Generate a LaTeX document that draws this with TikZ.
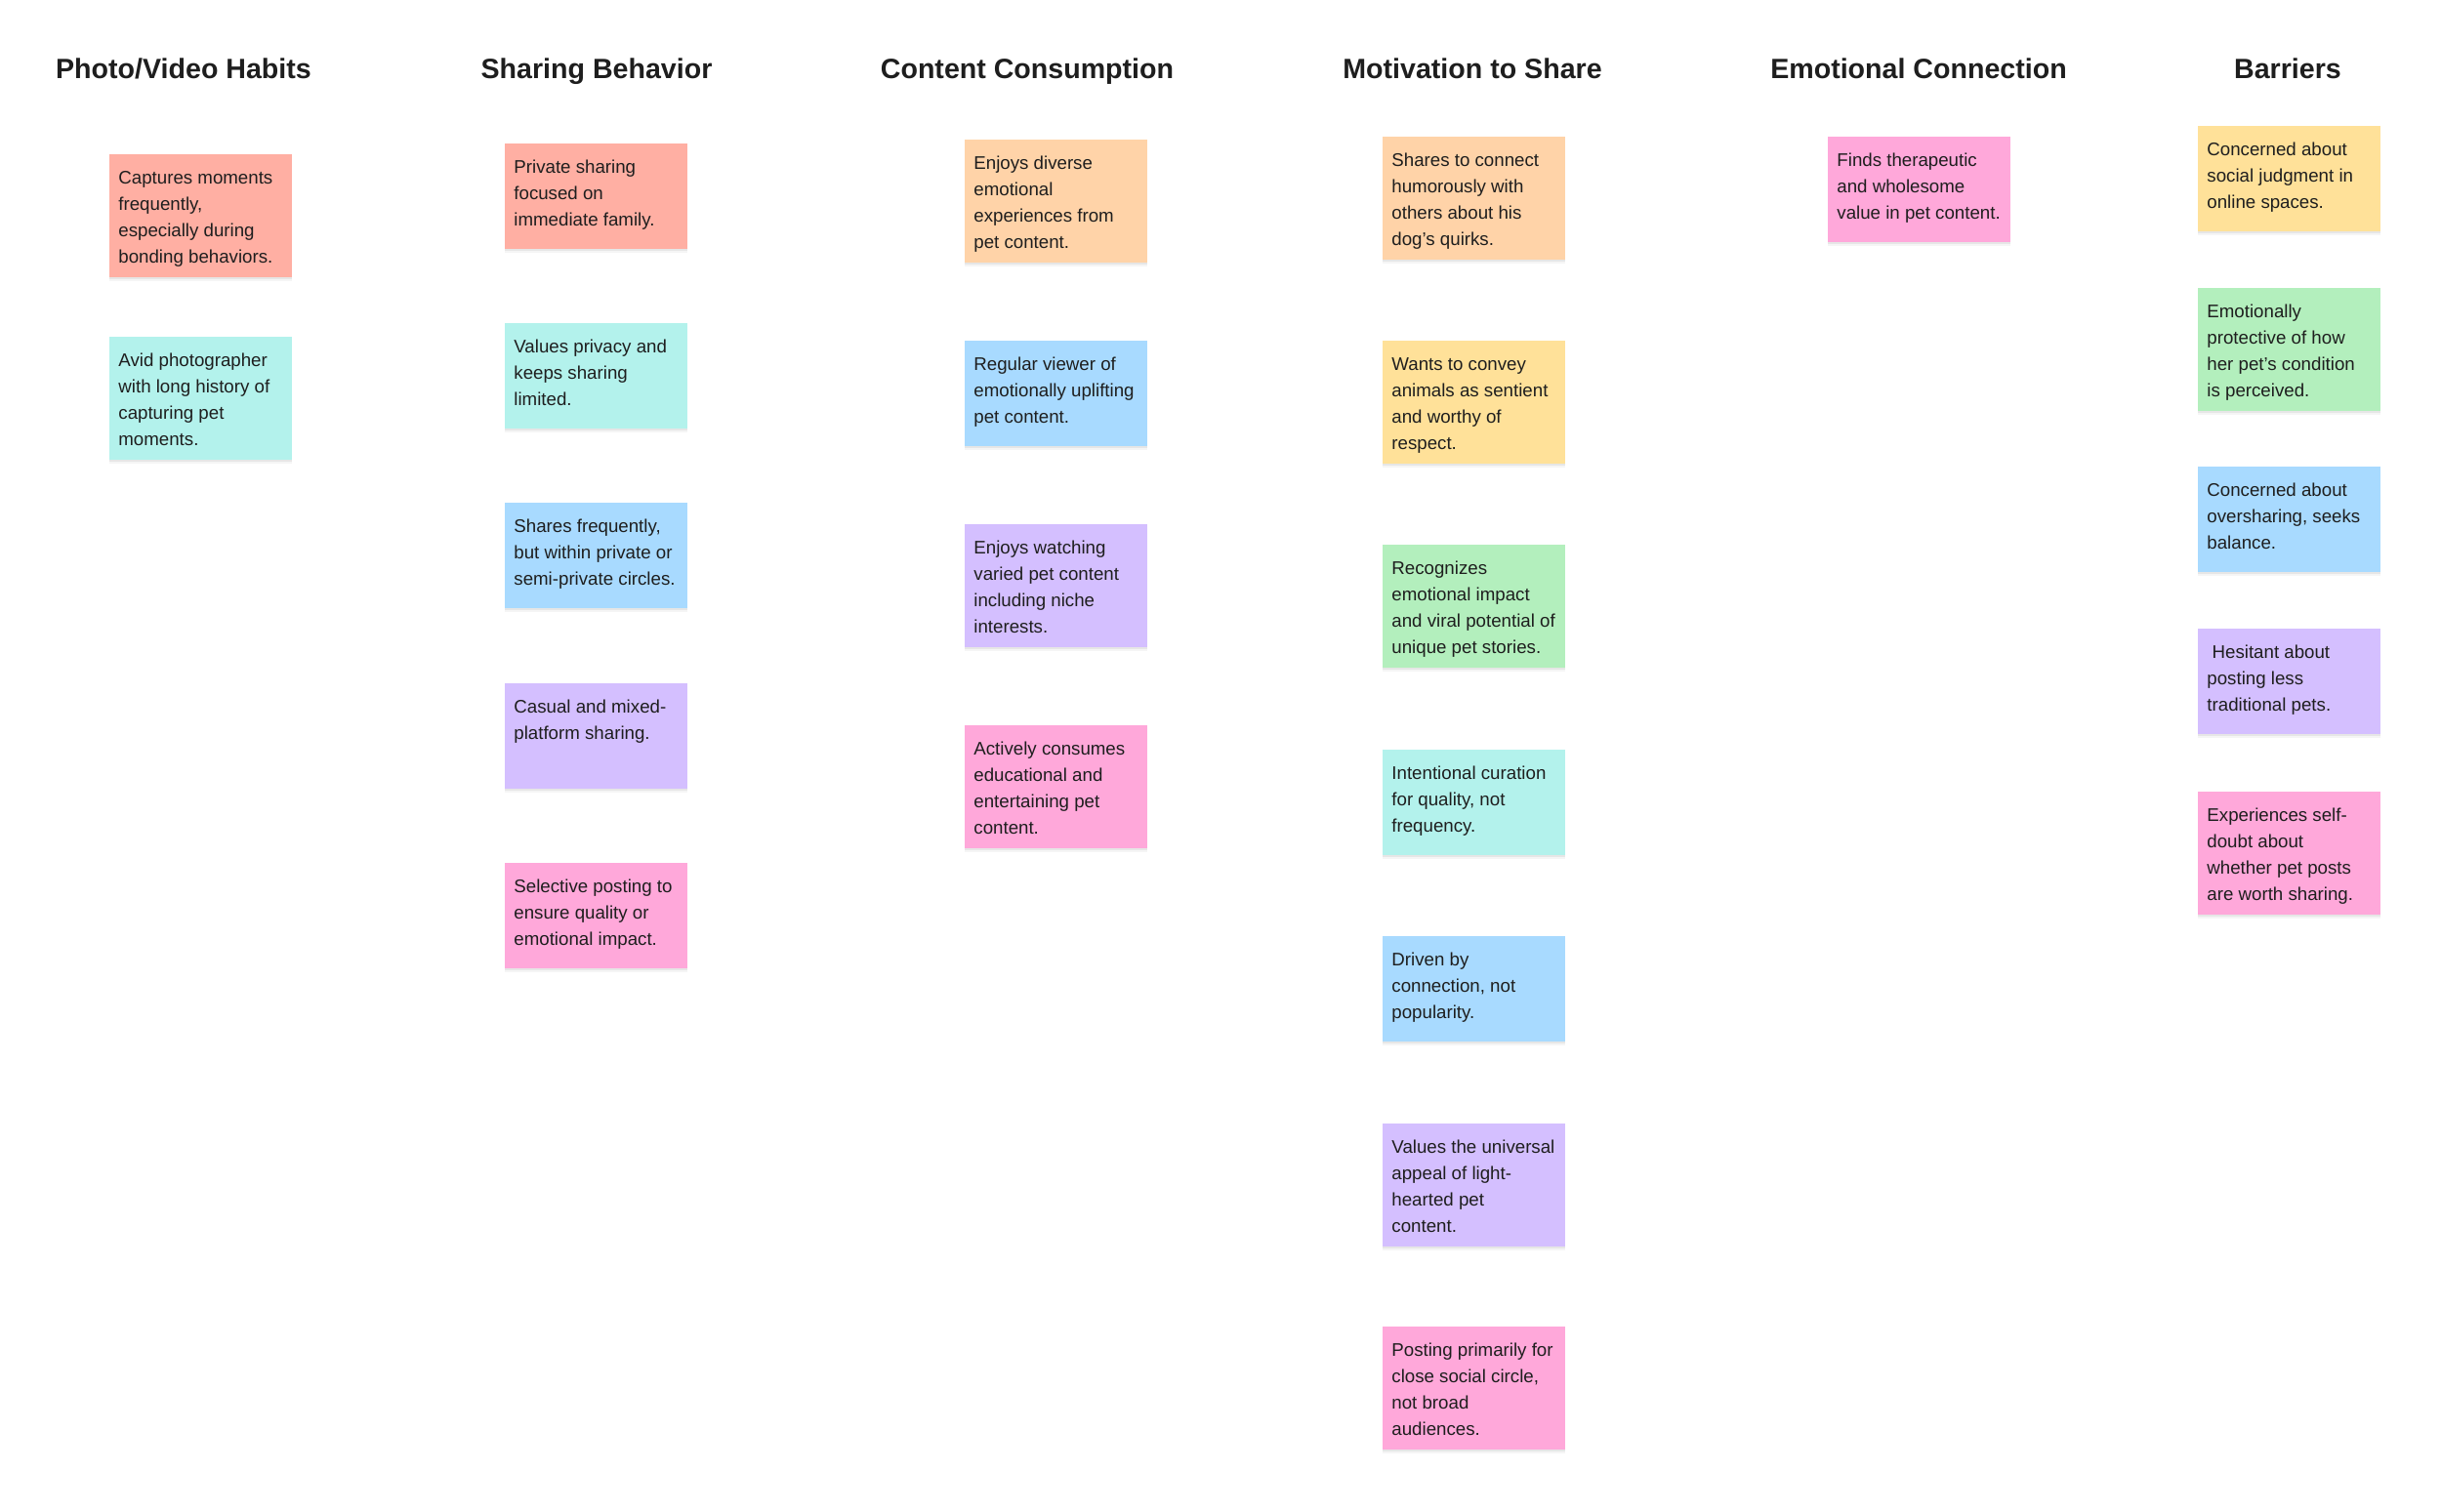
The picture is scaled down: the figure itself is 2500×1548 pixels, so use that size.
\documentclass[tikz,border=0pt]{standalone}
\usepackage{fontspec}
\setmainfont{Liberation Sans}
\usetikzlibrary{shadows}
\definecolor{ink}{HTML}{1E1E1E}
\definecolor{csalmon}{HTML}{FFAFA3}
\definecolor{cteal}{HTML}{B3F2EC}
\definecolor{cblue}{HTML}{A8DAFF}
\definecolor{cpurple}{HTML}{D4BFFF}
\definecolor{cpink}{HTML}{FFA8DA}
\definecolor{corange}{HTML}{FFD3A8}
\definecolor{cyellow}{HTML}{FFE199}
\definecolor{cgreen}{HTML}{B3EFBD}
\tikzset{
  stickybox/.style={rectangle, anchor=north west, inner xsep=4.5pt, inner ysep=5.5pt,
    text=ink, font=\fontsize{9.35pt}{13.5pt}\selectfont,
    drop shadow={shadow xshift=0pt, shadow yshift=-1.8pt, opacity=0.04, fill=black},
    drop shadow={shadow xshift=0pt, shadow yshift=-0.8pt, opacity=0.06, fill=black}},
  colhead/.style={anchor=base, text=ink, inner sep=0pt, font=\fontsize{14.3pt}{17pt}\selectfont\bfseries}
}
\newcommand\sticky[6]{%
  \node[stickybox, fill=#5] (#1) at (#2,#3)
    {\parbox[t][\dimexpr #4pt/2-11pt\relax][t]{84.5pt}{\raggedright\strut #6}};}
\begin{document}
\begin{tikzpicture}[x=0.5pt,y=-0.5pt]
\fill[white] (0,0) rectangle (2500,1548);
\useasboundingbox (0,0) rectangle (2500,1548);
% headings
\node[colhead] (h1) at (188,80) {Photo/Video Habits};
\node[colhead] (h2) at (611,80) {Sharing Behavior};
\node[colhead] (h3) at (1052,80) {Content Consumption};
\node[colhead] (h4) at (1508,80) {Motivation to Share};
\node[colhead] (h5) at (1965,80) {Emotional Connection};
\node[colhead] (h6) at (2343,80) {Barriers};
% column 1
\sticky{p1}{112}{158}{126}{csalmon}{Captures moments\\ frequently,\\ especially during\\ bonding behaviors.}
\sticky{p2}{112}{345}{126}{cteal}{Avid photographer\\ with long history of\\ capturing pet\\ moments.}
% column 2
\sticky{s1}{517}{147}{108}{csalmon}{Private sharing\\ focused on\\ immediate family.}
\sticky{s2}{517}{331}{108}{cteal}{Values privacy and\\ keeps sharing\\ limited.}
\sticky{s3}{517}{515}{108}{cblue}{Shares frequently,\\ but within private or\\ semi-private circles.}
\sticky{s4}{517}{700}{108}{cpurple}{Casual and mixed-\\ platform sharing.}
\sticky{s5}{517}{884}{108}{cpink}{Selective posting to\\ ensure quality or\\ emotional impact.}
% column 3
\sticky{c1}{988}{143}{126}{corange}{Enjoys diverse\\ emotional\\ experiences from\\ pet content.}
\sticky{c2}{988}{349}{108}{cblue}{Regular viewer of\\ emotionally uplifting\\ pet content.}
\sticky{c3}{988}{537}{126}{cpurple}{Enjoys watching\\ varied pet content\\ including niche\\ interests.}
\sticky{c4}{988}{743}{126}{cpink}{Actively consumes\\ educational and\\ entertaining pet\\ content.}
% column 4
\sticky{m1}{1416}{140}{126}{corange}{Shares to connect\\ humorously with\\ others about his\\ dog’s quirks.}
\sticky{m2}{1416}{349}{126}{cyellow}{Wants to convey\\ animals as sentient\\ and worthy of\\ respect.}
\sticky{m3}{1416}{558}{126}{cgreen}{Recognizes\\ emotional impact\\ and viral potential of\\ unique pet stories.}
\sticky{m4}{1416}{768}{108}{cteal}{Intentional curation\\ for quality, not\\ frequency.}
\sticky{m5}{1416}{959}{108}{cblue}{Driven by\\ connection, not\\ popularity.}
\sticky{m6}{1416}{1151}{126}{cpurple}{Values the universal\\ appeal of light-\\ hearted pet\\ content.}
\sticky{m7}{1416}{1359}{126}{cpink}{Posting primarily for\\ close social circle,\\ not broad\\ audiences.}
% column 5
\sticky{e1}{1872}{140}{108}{cpink}{Finds therapeutic\\ and wholesome\\ value in pet content.}
% column 6
\sticky{b1}{2251}{129}{108}{cyellow}{Concerned about\\ social judgment in\\ online spaces.}
\sticky{b2}{2251}{295}{126}{cgreen}{Emotionally\\ protective of how\\ her pet’s condition\\ is perceived.}
\sticky{b3}{2251}{478}{108}{cblue}{Concerned about\\ oversharing, seeks\\ balance.}
\sticky{b4}{2251}{644}{108}{cpurple}{\ Hesitant about\\ posting less\\ traditional pets.}
\sticky{b5}{2251}{811}{126}{cpink}{Experiences self-\\ doubt about\\ whether pet posts\\ are worth sharing.}
\end{tikzpicture}
\end{document}
